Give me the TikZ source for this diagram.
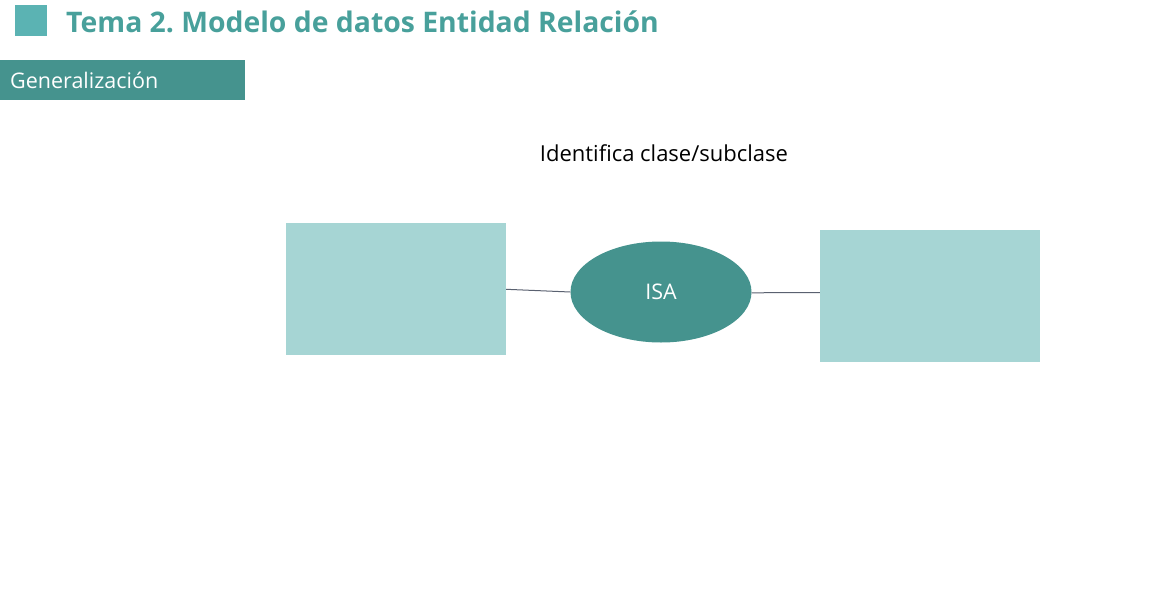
\documentclass[tikz,border=0pt]{standalone}
\usepackage{fontspec}
\setmainfont{Open Sans}
\usetikzlibrary{shapes.geometric}
\definecolor{sqc}{HTML}{5BB3B3}
\definecolor{titc}{HTML}{48A09B}
\definecolor{band}{HTML}{45938E}
\definecolor{boxc}{HTML}{A6D5D4}
\definecolor{linec}{HTML}{5A6170}
\tikzset{
  entity/.style={fill=boxc, draw=none, minimum width=220pt, minimum height=132pt, inner sep=0pt},
  rel/.style={ellipse, fill=band, draw=none, minimum width=181pt, minimum height=101pt, inner sep=0pt, text=white, font=\fontsize{21.5}{25}\selectfont},
  conn/.style={draw=linec, line width=1pt}
}
\frenchspacing
\begin{document}
\begin{tikzpicture}[x=1pt,y=-1pt]
\useasboundingbox (0,0) rectangle (1157,605);
\fill[sqc] (15,5) rectangle (47,36);
\node[anchor=base west, inner sep=0pt, text=titc, font=\fontsize{28.35}{34}\selectfont\bfseries] (title) at (66,32) {Tema 2. Modelo de datos Entidad Relación};
\fill[band] (0,60) rectangle (245,100);
\node[anchor=base west, inner sep=0pt, text=white, font=\fontsize{21.5}{25}\selectfont] (gen) at (10,88) {Generalización};
\node[anchor=base, inner sep=0pt, font=\fontsize{22}{26}\selectfont] (ident) at (664,161) {Identifica clase/subclase};
\node[entity] (A) at (396,289) {};
\node[entity] (B) at (930,296) {};
\node[rel] (isa) at (661,292) {ISA};
\draw[conn] (A.east |- 0,289.3) -- (isa.west);
\draw[conn] (isa.east) ++(0,0.8) -- (B.west |- 0,292.5);
\end{tikzpicture}
\end{document}
